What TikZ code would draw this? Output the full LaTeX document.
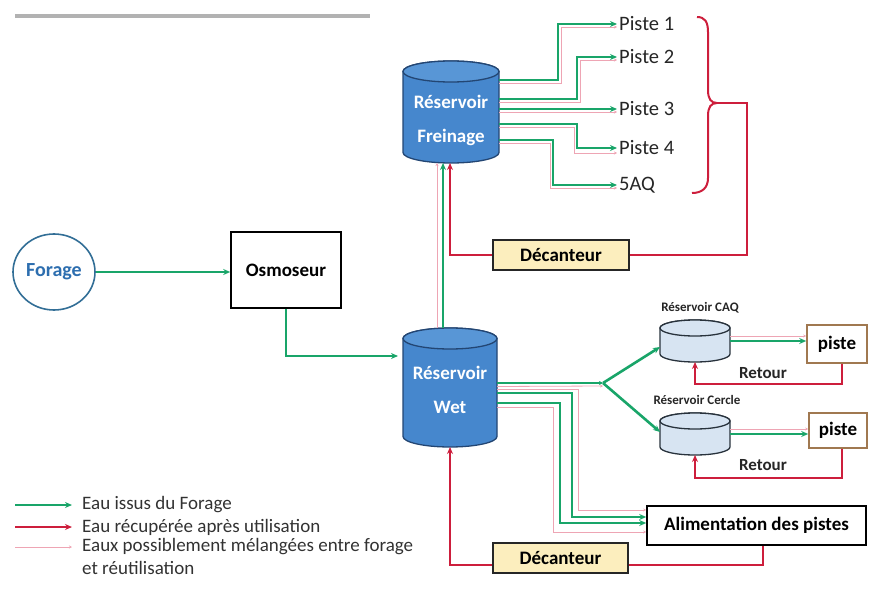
\documentclass[tikz,border=0pt]{standalone}
\usepackage{fontspec}
\setmainfont{Carlito}
\usetikzlibrary{arrows.meta,backgrounds,calc,shapes.geometric}
\definecolor{wgreen}{RGB}{25,165,105}
\definecolor{wred}{RGB}{205,30,60}
\definecolor{wpink}{RGB}{238,165,180}
\definecolor{cylblue}{RGB}{70,135,205}
\definecolor{cyltop}{RGB}{88,150,214}
\definecolor{cyledge}{RGB}{35,70,115}
\definecolor{smallcyl}{RGB}{215,228,242}
\definecolor{smalledge}{RGB}{40,50,60}
\definecolor{decfill}{RGB}{252,238,190}
\definecolor{pisteedge}{RGB}{160,120,80}
\definecolor{forageedge}{RGB}{50,110,150}
\definecolor{foragetext}{RGB}{45,110,175}
\definecolor{legtextc}{RGB}{50,50,50}
\newcommand\mycyl[6]{%
  \filldraw[draw=#6,line width=1.3pt,fill=#4]
    ([yshift=-#3pt]#1.north west) -- ([yshift=#3pt]#1.south west)
    arc[start angle=180,end angle=360,x radius=#2pt,y radius=#3pt]
    -- ([yshift=-#3pt]#1.north east)
    arc[start angle=0,end angle=180,x radius=#2pt,y radius=#3pt] -- cycle;
  \filldraw[draw=#6,line width=1.3pt,fill=#5] ([yshift=-#3pt]#1.north) ellipse[x radius=#2pt,y radius=#3pt];
}
\begin{document}
\begin{tikzpicture}[x=1pt,y=1pt,
  gline/.style={draw=wgreen,line width=2.6pt,-{Stealth[length=7pt,width=6pt]}},
  rline/.style={draw=wred,line width=2.3pt,-{Stealth[length=7pt,width=6pt]}},
  rplain/.style={draw=wred,line width=2.3pt},
  pline/.style={draw=wpink,line width=0.8pt,-{Stealth[length=3pt,width=3pt]}},
  boldtxt/.style={font=\bfseries\fontsize{19}{22}\selectfont},
  box/.style={draw=black,line width=1.6pt,fill=white,boldtxt,inner sep=0pt},
  dec/.style={draw=black!85,line width=1.6pt,fill=decfill,boldtxt,inner sep=0pt},
  pbox/.style={draw=pisteedge,line width=1.6pt,fill=white,boldtxt,inner sep=0pt},
  cylnode/.style={draw=none,inner sep=0pt,outer sep=0pt},
  cyltext/.style={text=white,align=center,font=\bfseries\fontsize{19}{34}\selectfont},
  ptext/.style={anchor=west,inner sep=2pt,font=\fontsize{20.5}{24}\selectfont,text=black!85},
  smalltxt/.style={font=\bfseries\fontsize{13}{15}\selectfont,text=black!85},
  rettxt/.style={font=\bfseries\fontsize{17}{19}\selectfont,text=black!85},
  legtxt/.style={anchor=west,inner sep=0pt,font=\fontsize{19}{20}\selectfont,text=legtextc}
]
\useasboundingbox (0,0) rectangle (871,-594);
\fill[gray!60] (15,-14.5) rectangle (370,-18);

% ---- nodes
\node[draw=forageedge,line width=1.6pt,ellipse,minimum width=82pt,minimum height=76pt,inner sep=0pt,
      text=foragetext,font=\bfseries\fontsize{20}{22}\selectfont] (forage) at (54,-272) {Forage};
\node[box,minimum width=110pt,minimum height=76pt] (osmo) at (286,-270) {Osmoseur};
\node[cylnode,minimum width=96pt,minimum height=102pt] (frein) at (451,-112) {};
\node[cylnode,minimum width=94pt,minimum height=119pt] (wet) at (450,-387.5) {};
\node[cylnode,minimum width=70pt,minimum height=42pt] (caq) at (695,-341) {};
\node[cylnode,minimum width=70pt,minimum height=42pt] (cercle) at (695,-434) {};
\node[cyltext] (frein-t) at (451,-120) {Réservoir\\Freinage};
\node[cyltext] (wet-t) at (450,-390) {Réservoir\\Wet};
\node[smalltxt] (caq-l) at (700,-308) {Réservoir CAQ};
\node[smalltxt] (cercle-l) at (697,-400) {Réservoir Cercle};
\node[dec,minimum width=136pt,minimum height=30pt] (dec1) at (561,-255) {Décanteur};
\node[dec,minimum width=135pt,minimum height=30pt] (dec2) at (560.5,-558) {Décanteur};
\node[box,minimum width=219pt,minimum height=39pt] (alim) at (756.5,-525.5) {Alimentation des pistes};
\node[pbox,minimum width=60pt,minimum height=38pt] (piste1) at (837,-344) {piste};
\node[pbox,minimum width=58pt,minimum height=35pt] (piste2) at (838,-430.5) {piste};
\node[rettxt] (ret1) at (763,-373) {Retour};
\node[rettxt] (ret2) at (763,-465) {Retour};
\node[ptext] (p1) at (617,-24) {Piste 1};
\node[ptext] (p2) at (617,-57) {Piste 2};
\node[ptext] (p3) at (617,-109) {Piste 3};
\node[ptext] (p4) at (617,-148) {Piste 4};
\node[ptext] (saq) at (617,-185) {5AQ};

\begin{scope}[on background layer]
  \mycyl{frein}{48}{10.5}{cylblue}{cyltop}{cyledge}
  \mycyl{wet}{47}{10.5}{cylblue}{cyltop}{cyledge}
  \mycyl{caq}{35}{8}{smallcyl}{smallcyl}{smalledge}
  \mycyl{cercle}{35}{8}{smallcyl}{smallcyl}{smalledge}
\end{scope}

% ---- brace
\coordinate (bracetip) at (717,-103);
\draw[rplain,line width=2pt] (697,-17) .. controls (705,-17) and (708,-22) .. (708,-32) -- (708,-90)
  .. controls (708,-99) and (711,-103) .. (bracetip)
  .. controls (711,-103) and (708,-107) .. (708,-116) -- (708,-178)
  .. controls (708,-188) and (702,-193) .. (692,-193);

% ---- pink (mixed) lines
\draw[pline] ([yshift=29pt]frein.east) -- ++(62,0) |- ([yshift=-3pt]p1.west);
\draw[pline] ([yshift=10pt]frein.east) -- ++(81,0) |- ([yshift=-3pt]p2.west);
\draw[pline] ($(frein.east |- p3.west)+(0,-3)$) -- ($(p3.west)+(0,-3)$);
\draw[pline] ([yshift=-15pt]frein.east) -- ++(75,0) |- ([yshift=-5pt]p4.west);
\draw[pline] ([yshift=-31pt]frein.east) -- ++(51,0) |- ([yshift=-3pt]saq.west);
\draw[pline] ([xshift=-13pt]wet.north) -- ([xshift=-14pt]frein.south);
\coordinate (split) at (603,-383);
\draw[pline] ([yshift=1pt]wet.east) -- ($(split)+(0,-3)$);
\draw[pline] ($(caq.east)+(0,5)$) -- ($(piste1.west |- caq.east)+(0,5)$);
\draw[pline] ($(cercle.east)+(0,5)$) -- ($(piste2.west |- cercle.east)+(0,5)$);
\draw[pline] ([yshift=-1.5pt]wet.east) -- ++(81,0) |- ([yshift=15.5pt]alim.west);
\draw[pline] ([yshift=-19.5pt]wet.east) -- ++(56,0) |- ([yshift=-6.5pt]alim.west);

% ---- green flows
\draw[gline] (forage.east) -- (osmo.west |- forage.east);
\draw[gline,shorten >=5pt] (osmo.south) |- ([yshift=31.5pt]wet.west);
\draw[gline] ([xshift=-7pt]wet.north) -- ([xshift=-8pt]frein.south);
\draw[gline] ([yshift=32pt]frein.east) -- ++(59,0) |- (p1.west);
\draw[gline] ([yshift=13pt]frein.east) -- ++(78,0) |- (p2.west);
\draw[gline] (frein.east |- p3.west) -- (p3.west);
\draw[gline] ([yshift=-12pt]frein.east) -- ++(78,0) |- (p4.west);
\draw[gline] ([yshift=-28pt]frein.east) -- ++(54,0) |- (saq.west);
\draw[gline,-{Stealth[length=4pt,width=4pt]}] (wet.east |- split) -- (split);
\draw[gline] (split) -- ([yshift=-6pt]caq.west);
\draw[gline] (split) -- ([yshift=2pt]cercle.west);
\draw[gline] (caq.east) -- (piste1.west |- caq.east);
\draw[gline] (cercle.east) -- (piste2.west |- cercle.east);
\draw[gline] ([yshift=-5.5pt]wet.east) -- ++(75,0) |- ([yshift=8.5pt]alim.west);
\draw[gline] ([yshift=-15.5pt]wet.east) -- ++(63,0) |- ([yshift=2.5pt]alim.west);

% ---- red flows
\draw[rline] (dec1.west) -| ([xshift=-1pt]frein.south);
\draw[rplain] (bracetip) -- ++(30,0) |- (dec1.east);
\draw[rline] ([xshift=5pt]piste1.south) -- ++(0,-20) -| (caq.south);
\draw[rline] ([xshift=4pt]piste2.south) -- ++(0,-29) -| (cercle.south);
\draw[rplain] ([xshift=6.5pt]alim.south) |- ([yshift=-7pt]dec2.east);
\draw[rline] ([yshift=-7pt]dec2.west) -| (wet.south);

% ---- legend
\coordinate (lg1a) at (15,-505); \coordinate (lg1b) at (72,-505);
\coordinate (lg2a) at (15,-527); \coordinate (lg2b) at (72,-527);
\coordinate (lg3a) at (15,-547); \coordinate (lg3b) at (72,-547);
\draw[gline,line width=2.2pt] (lg1a) -- (lg1b);
\draw[rline,line width=2.2pt] (lg2a) -- (lg2b);
\draw[pline] (lg3a) -- (lg3b);
\node[legtxt] (lt1) at (82,-505) {Eau issus du Forage};
\node[legtxt] (lt2) at (82,-527) {Eau récupérée après utilisation};
\node[legtxt] (lt3) at (82,-547) {Eaux possiblement mélangées entre forage};
\node[legtxt] (lt4) at (82,-568) {et réutilisation};
\end{tikzpicture}
\end{document}
